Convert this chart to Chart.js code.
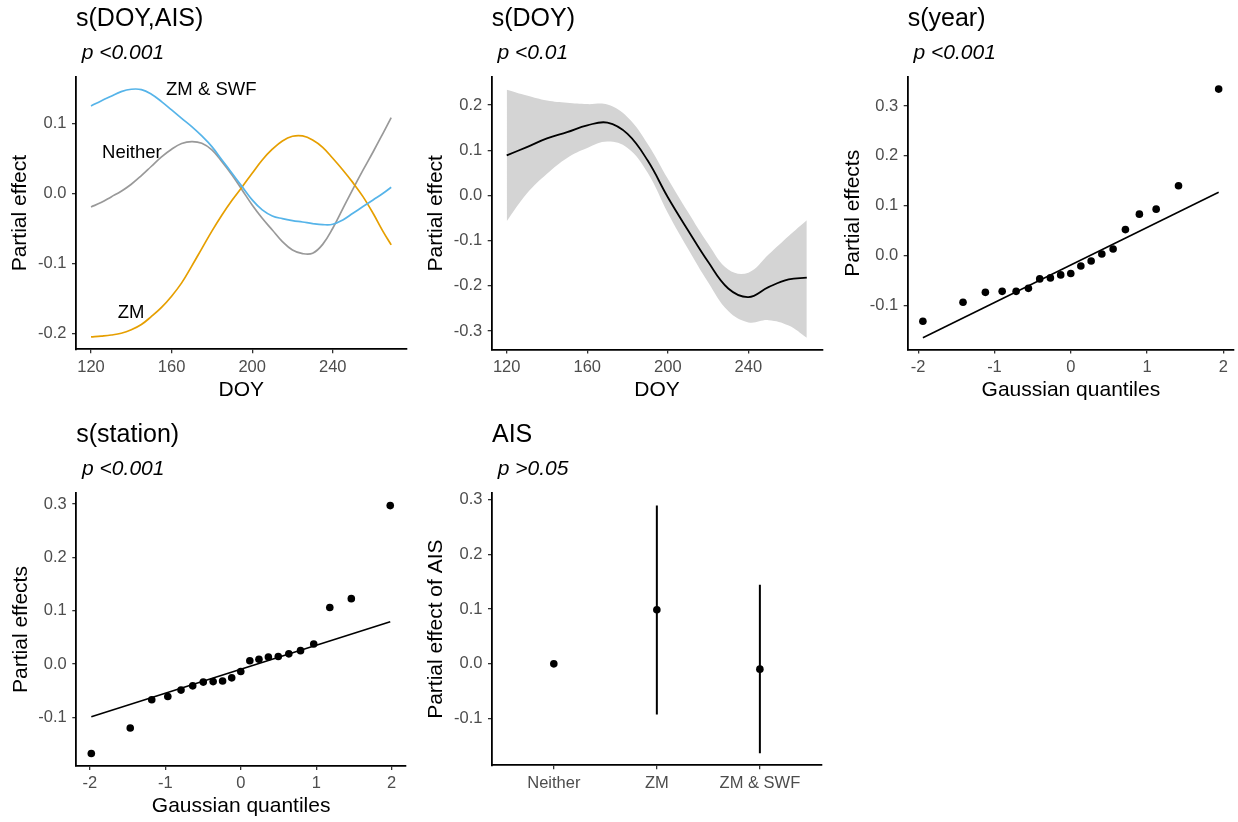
<!DOCTYPE html>
<html>
<head>
<meta charset="utf-8">
<script src="https://cdn.jsdelivr.net/npm/chart.js@4.4.1/dist/chart.umd.min.js"></script>
<style>
  body { margin: 0; background: #fff; width: 1238px; height: 822px; position: relative; overflow: hidden;
         font-family: "Liberation Sans", Arial, Helvetica, sans-serif; }
  canvas { position: absolute; left: 0; top: 0; }
  .ttl { position: absolute; font-size: 25px; line-height: 25px; color: #000; white-space: pre; }
  .sub { position: absolute; font-size: 21px; line-height: 21px; font-style: italic; color: #000; white-space: pre; }
</style>
</head>
<body>
<canvas id="p1" width="1238" height="822"></canvas>
<canvas id="p2" width="1238" height="822"></canvas>
<canvas id="p3" width="1238" height="822"></canvas>
<canvas id="p4" width="1238" height="822"></canvas>
<canvas id="p5" width="1238" height="822"></canvas>

<div class="ttl" style="left:76px;top:4.5px">s(DOY,AIS)</div>
<div class="sub" style="left:81.8px;top:40.5px">p &lt;0.001</div>
<div class="ttl" style="left:491.7px;top:4.5px">s(DOY)</div>
<div class="sub" style="left:497.5px;top:40.5px">p &lt;0.01</div>
<div class="ttl" style="left:907.7px;top:4.5px">s(year)</div>
<div class="sub" style="left:913.5px;top:40.5px">p &lt;0.001</div>
<div class="ttl" style="left:76.3px;top:420.5px">s(station)</div>
<div class="sub" style="left:82.1px;top:456.5px">p &lt;0.001</div>
<div class="ttl" style="left:492px;top:420.5px">AIS</div>
<div class="sub" style="left:497.8px;top:456.5px">p &gt;0.05</div>

<script>
// s(DOY,AIS): smooth by AIS level
const doyAis = [120, 125, 130, 135, 140, 145, 150, 155, 160, 165, 170, 175, 180, 185, 190, 195,
                200, 205, 210, 215, 220, 225, 230, 235, 240, 245, 250, 255, 260, 265, 269];
const fxNeither = [-0.0195, -0.0133, -0.0052, 0.0029, 0.0129, 0.0252, 0.0386, 0.0519, 0.0629, 0.0710,
                   0.0738, 0.0714, 0.0619, 0.0452, 0.0262, 0.0048, -0.0167, -0.0357, -0.0524, -0.0690,
                   -0.0810, -0.0862, -0.0857, -0.0730, -0.0500, -0.0220, 0.0060, 0.0330, 0.0590, 0.0860, 0.1080];
const fxZM = [-0.2052, -0.2040, -0.2025, -0.2000, -0.1950, -0.1875, -0.1760, -0.1630, -0.1470, -0.1280,
              -0.1040, -0.0790, -0.0540, -0.0310, -0.0100, 0.0090, 0.0286, 0.0476, 0.0629, 0.0748,
              0.0814, 0.0819, 0.0762, 0.0657, 0.0500, 0.0333, 0.0152, -0.0048, -0.0286, -0.0548, -0.0738];
const fxZMSWF = [0.1248, 0.1319, 0.1386, 0.1452, 0.1486, 0.1481, 0.1415, 0.1310, 0.1190, 0.1070,
                 0.0952, 0.0819, 0.0667, 0.0476, 0.0286, 0.0095, -0.0095, -0.0238, -0.0324, -0.0362,
                 -0.0390, -0.0410, -0.0433, -0.0448, -0.0443, -0.0381, -0.0286, -0.0190, -0.0095, 0.0000, 0.0086];
const curveLabels = ["ZM & SWF", "Neither", "ZM"];
const labelDoy = [179.7, 140.3, 139.9];
const labelFx = [0.148, 0.058, -0.1705];

// s(DOY): smooth with confidence band
const doy = [120, 130, 140, 150, 160, 170, 180, 190, 200, 210, 220, 230, 240, 250, 260, 269];
const fxDoy = [0.0885, 0.107, 0.126, 0.140, 0.155, 0.161, 0.136, 0.077, -0.004, -0.077, -0.147, -0.206, -0.225, -0.203, -0.186, -0.182];
const fxDoyUpper = [0.234, 0.221, 0.210, 0.205, 0.202, 0.201, 0.173, 0.114, 0.037, -0.037, -0.107, -0.164, -0.171, -0.131, -0.090, -0.055];
const fxDoyLower = [-0.057, 0.004, 0.048, 0.083, 0.105, 0.119, 0.105, 0.050, -0.039, -0.118, -0.192, -0.256, -0.281, -0.276, -0.288, -0.315];

// s(year): QQ plot of random effects
const yearQuantiles = [-1.938, -1.412, -1.119, -0.899, -0.716, -0.555, -0.407, -0.267, -0.132, 0,
                       0.132, 0.267, 0.407, 0.555, 0.716, 0.899, 1.119, 1.412, 1.938];
const yearEffects = [-0.132, -0.094, -0.074, -0.072, -0.072, -0.066, -0.047, -0.045, -0.039, -0.036,
                     -0.021, -0.011, 0.003, 0.013, 0.052, 0.083, 0.093, 0.140, 0.334];
const yearLineX = [-1.938, 1.938];
const yearLineY = [-0.165, 0.127];

// s(station): QQ plot of random effects
const stationQuantiles = [-1.981, -1.465, -1.180, -0.967, -0.792, -0.637, -0.497, -0.366, -0.241, -0.120, 0,
                          0.120, 0.241, 0.366, 0.497, 0.637, 0.792, 0.967, 1.180, 1.465, 1.981];
const stationEffects = [-0.168, -0.120, -0.067, -0.061, -0.049, -0.041, -0.034, -0.033, -0.032, -0.026, -0.014,
                        0.006, 0.009, 0.013, 0.014, 0.019, 0.025, 0.0375, 0.106, 0.1225, 0.297];
const stationLineX = [-1.981, 1.981];
const stationLineY = [-0.099, 0.079];

// AIS parametric effect
const aisLevels = ["Neither", "ZM", "ZM & SWF"];
const aisEffect = [0, 0.0985, -0.0097];
const aisLower = [null, -0.0924, -0.1629];
const aisUpper = [null, 0.2888, 0.1441];

const yTicks1 = [-0.2, -0.1, 0.0, 0.1];
const yTicks2 = [-0.3, -0.2, -0.1, 0.0, 0.1, 0.2];
const yTicks3 = [-0.1, 0.0, 0.1, 0.2, 0.3];
const doyTicks = [120, 160, 200, 240];
const qqTicks = [-2, -1, 0, 1, 2];

const FONT = '"Liberation Sans", Arial, Helvetica, sans-serif';
Chart.defaults.font.family = FONT;

const pts = (xs, ys) => xs.map((x, i) => ({ x, y: ys[i] }));
const one = (v) => v.toFixed(1);
const whole = (v) => String(v);

function scaleOpts(c, fit) {
  return {
    type: "linear",
    min: c.min,
    max: c.max,
    afterBuildTicks: (s) => { s.ticks = c.ticks.map((v) => ({ value: v })); },
    afterFit: fit,
    border: { display: true, color: "#000", width: 1.8 },
    grid: { drawOnChartArea: false, drawTicks: true, tickLength: 4, color: "#333333", lineWidth: 1.3 },
    ticks: { color: "#4D4D4D", font: { size: 16.5 }, padding: c.pad, autoSkip: false, maxRotation: 0, callback: c.format },
    title: { display: !!c.title, text: c.title || "", color: "#000", font: { size: 21, lineHeight: 1.2 }, padding: 0 },
  };
}

function makePanel(id, box, xCfg, yCfg, datasets, plugins) {
  const L = box.yTitleX - 12.6;
  const W = box.left - L;
  const H = box.xTitleY ? box.xTitleY + 12.6 - box.bottom : 36;
  return new Chart(document.getElementById(id), {
    type: "line",
    data: { datasets },
    options: {
      responsive: false,
      animation: false,
      events: [],
      layout: { padding: { left: L, top: box.top, right: 1238 - box.right, bottom: 822 - box.bottom - H } },
      plugins: { legend: { display: false }, tooltip: { enabled: false } },
      scales: {
        x: scaleOpts(xCfg, (s) => { s.height = H; }),
        y: scaleOpts(yCfg, (s) => { s.width = W; }),
      },
    },
    plugins: plugins || [],
  });
}

function curve(xs, ys, color, width) {
  return {
    data: pts(xs, ys), borderColor: color, borderWidth: width, pointRadius: 0,
    tension: 0.4, fill: false,
  };
}
function dots(xs, ys) {
  return {
    data: pts(xs, ys), showLine: false, pointRadius: 3.8, pointBackgroundColor: "#000",
    pointBorderWidth: 0, borderColor: "#000",
  };
}
function segment(xs, ys, width) {
  return { data: pts(xs, ys), borderColor: "#000", borderWidth: width, pointRadius: 0, fill: false };
}

// text labels placed on the curves of panel 1
const labelPlugin = {
  id: "curveLabels",
  afterDatasetsDraw(chart) {
    const { ctx, scales: { x, y } } = chart;
    ctx.save();
    ctx.font = "18.5px " + FONT;
    ctx.fillStyle = "#000";
    ctx.textAlign = "center";
    ctx.textBaseline = "middle";
    curveLabels.forEach((t, i) => ctx.fillText(t, x.getPixelForValue(labelDoy[i]), y.getPixelForValue(labelFx[i])));
    ctx.restore();
  },
};

// 1: s(DOY,AIS)
makePanel("p1",
  { left: 76, right: 406.7, top: 77, bottom: 349.3, yTitleX: 20.3, xTitleY: 390 },
  { min: 112.55, max: 276.7, ticks: doyTicks, format: whole, pad: 4, title: "DOY" },
  { min: -0.2229, max: 0.1661, ticks: yTicks1, format: one, pad: 5.5, title: "Partial effect" },
  [
    curve(doyAis, fxZMSWF, "#56B4E9", 1.7),
    curve(doyAis, fxZM, "#E69F00", 1.7),
    curve(doyAis, fxNeither, "#999999", 1.7),
  ],
  [labelPlugin]);

// 2: s(DOY)
makePanel("p2",
  { left: 491.7, right: 822.3, top: 77, bottom: 349.5, yTitleX: 436.3, xTitleY: 390.3 },
  { min: 112.55, max: 276.7, ticks: doyTicks, format: whole, pad: 4, title: "DOY" },
  { min: -0.341, max: 0.262, ticks: yTicks2, format: one, pad: 5.5, title: "Partial effect" },
  [
    curve(doy, fxDoy, "#000", 1.8),
    Object.assign(curve(doy, fxDoyUpper, "rgba(0,0,0,0)", 0), { fill: "+1", backgroundColor: "#D4D4D4" }),
    curve(doy, fxDoyLower, "rgba(0,0,0,0)", 0),
  ]);

// 3: s(year)
makePanel("p3",
  { left: 907.7, right: 1238, top: 77, bottom: 349.5, yTitleX: 853, xTitleY: 390.2 },
  { min: -2.137, max: 2.139, ticks: qqTicks, format: whole, pad: 4, title: "Gaussian quantiles" },
  { min: -0.1887, max: 0.3583, ticks: yTicks3, format: one, pad: 5.5, title: "Partial effects" },
  [
    dots(yearQuantiles, yearEffects),
    segment(yearLineX, yearLineY, 1.6),
  ]);

// 4: s(station)
makePanel("p4",
  { left: 76.3, right: 406, top: 493, bottom: 766, yTitleX: 20.8, xTitleY: 806.5 },
  { min: -2.18, max: 2.19, ticks: qqTicks, format: whole, pad: 4, title: "Gaussian quantiles" },
  { min: -0.1913, max: 0.3206, ticks: yTicks3, format: one, pad: 5.5, title: "Partial effects" },
  [
    dots(stationQuantiles, stationEffects),
    segment(stationLineX, stationLineY, 1.6),
  ]);

// 5: AIS
const aisPos = aisLevels.map((_, i) => i + 1);
const aisBars = aisPos
  .filter((_, i) => aisLower[i] !== null)
  .map((p) => segment([p, p], [aisLower[p - 1], aisUpper[p - 1]], 2));
makePanel("p5",
  { left: 492, right: 821.7, top: 493, bottom: 765.3, yTitleX: 435.8, xTitleY: null },
  { min: 0.4, max: 3.6, ticks: aisPos, format: (v) => aisLevels[v - 1], pad: 4, title: "" },
  { min: -0.185, max: 0.3115, ticks: yTicks3, format: one, pad: 5.5, title: "Partial effect of AIS" },
  [dots(aisPos, aisEffect), ...aisBars]);
</script>
</body>
</html>
